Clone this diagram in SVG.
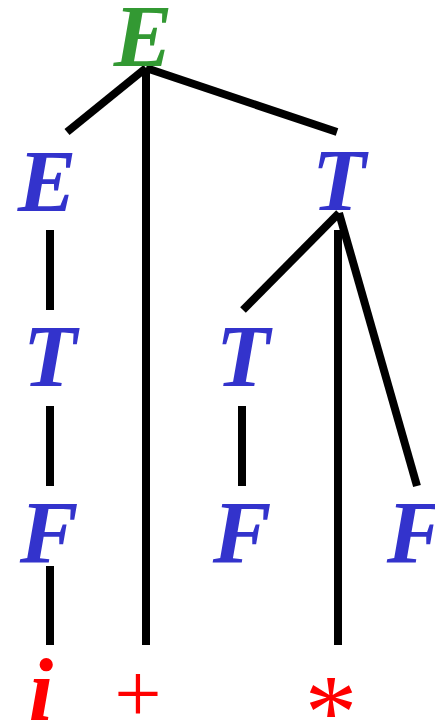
<svg xmlns="http://www.w3.org/2000/svg" width="435" height="723" viewBox="0 0 435 723">
<style>
.n{font-family:"Liberation Serif","Times New Roman",serif;font-weight:bold;font-style:italic;font-size:88px;text-anchor:middle}
.g{fill:#339933}
.b{fill:#3333CC}
.r{fill:#FF0000}
.t{font-family:"Liberation Serif","Times New Roman",serif;text-anchor:middle;fill:#FF0000}
.e{stroke:#000;stroke-width:8;fill:none}
</style>
<rect width="435" height="723" fill="#fff"/>
<g id="edges">
<line class="e" x1="146" y1="68" x2="67" y2="132"/>
<line class="e" x1="146" y1="68" x2="146" y2="645"/>
<line class="e" x1="146" y1="68" x2="337" y2="132"/>
<line class="e" x1="50" y1="230" x2="50" y2="310"/>
<line class="e" x1="50" y1="406" x2="50" y2="486"/>
<line class="e" x1="50" y1="566" x2="50" y2="645"/>
<line class="e" x1="339" y1="213" x2="243" y2="310"/>
<line class="e" x1="338" y1="230" x2="338" y2="645"/>
<line class="e" x1="339" y1="213" x2="417" y2="486"/>
<line class="e" x1="242" y1="406" x2="242" y2="486"/>
</g>
<g id="E_root"><text class="n g" x="143" y="66">E</text></g>
<g id="E_left"><text class="n b" x="47" y="211">E</text></g>
<g id="T_right"><text class="n b" x="339" y="210">T</text></g>
<g id="T_left"><text class="n b" x="50" y="386">T</text></g>
<g id="T_mid"><text class="n b" x="243" y="386">T</text></g>
<g id="F_left"><text class="n b" x="49" y="562">F</text></g>
<g id="F_mid"><text class="n b" x="242" y="562">F</text></g>
<g id="F_right"><text class="n b" x="416" y="562">F</text></g>
<g id="i"><text class="n r" x="41" y="720">i</text></g>
<g id="plus"><text class="t" x="138" y="722" font-size="84">+</text></g>
<g id="star"><text class="t" x="331" y="748" font-size="105">*</text></g>
</svg>
